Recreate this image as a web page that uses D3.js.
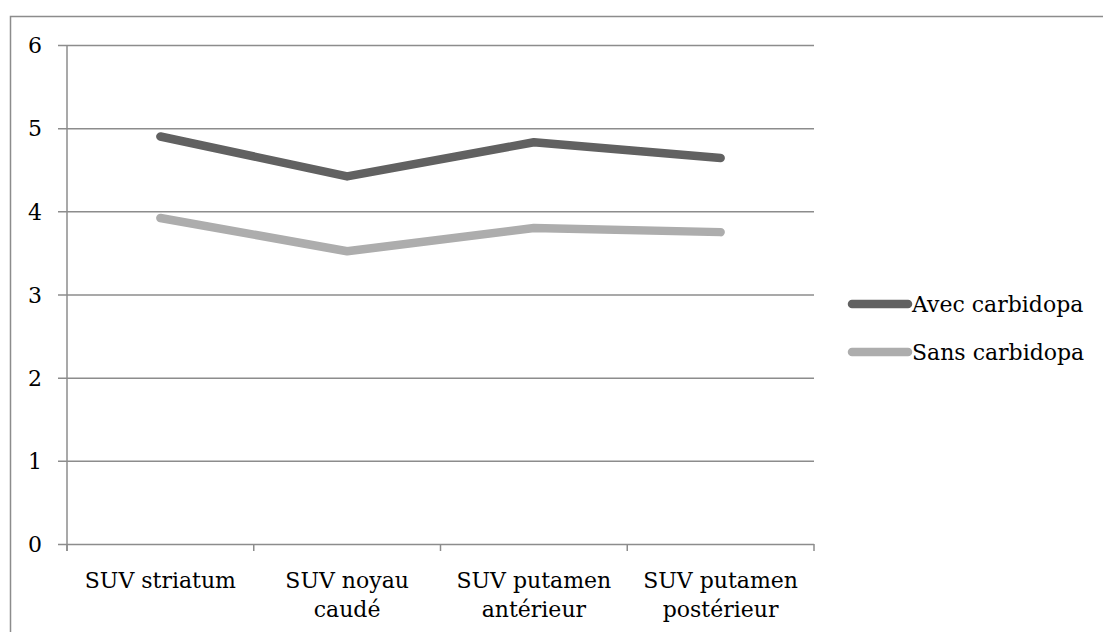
<!DOCTYPE html>
<html>
<head>
<meta charset="utf-8">
<script src="https://cdn.jsdelivr.net/npm/d3@7"></script>
<style>
  body { margin: 0; background: #fff; }
  svg text { font-family: "DejaVu Serif", "Liberation Serif", serif; fill: #000; }
</style>
</head>
<body>
<div id="chart"></div>
<script>
var categories = [["SUV striatum"], ["SUV noyau", "caudé"], ["SUV putamen", "antérieur"], ["SUV putamen", "postérieur"]];
var seriesNames = ["Avec carbidopa", "Sans carbidopa"];
var avecValues = [4.90, 4.42, 4.83, 4.64];
var sansValues = [3.92, 3.52, 3.80, 3.75];
var yTicks = [0, 1, 2, 3, 4, 5, 6];

var width = 1103, height = 632;
var colors = ["#616161", "#adadad"];
var fs = 22;

var svg = d3.select("#chart").append("svg")
    .attr("width", width).attr("height", height);

// outer border (only top and left visible)
svg.append("rect")
    .attr("x", 10.5).attr("y", 16.5)
    .attr("width", width + 10).attr("height", height + 10)
    .attr("fill", "none").attr("stroke", "#8c8c8c").attr("stroke-width", 1.5);

var x0 = 67, x1 = 814, yTop = 45, yBot = 544;

var x = d3.scaleBand()
    .domain(d3.range(categories.length))
    .range([x0, x1]);

var y = d3.scaleLinear()
    .domain([0, 6])
    .range([yBot, yTop]);

// gridlines + y ticks
var yAxis = d3.axisLeft(y)
    .tickValues(yTicks)
    .tickSize(-(x1 - x0))
    .tickFormat(d3.format("d"));

var gy = svg.append("g")
    .attr("transform", "translate(" + x0 + ",0)")
    .call(yAxis);
gy.select(".domain").remove();
gy.selectAll(".tick line")
    .attr("x1", -9)
    .attr("stroke", "#8c8c8c").attr("stroke-width", 1.5);
gy.selectAll(".tick text")
    .attr("font-size", fs)
    .attr("text-anchor", "start")
    .attr("x", -39)
    .attr("dy", "0.35em");

// y axis line
svg.append("line")
    .attr("x1", x0).attr("x2", x0)
    .attr("y1", yTop).attr("y2", yBot + 7)
    .attr("stroke", "#8c8c8c").attr("stroke-width", 1.5);

// x-axis tick marks at category boundaries
var bounds = d3.range(categories.length + 1).map(function(i) {
  return i < categories.length ? x(i) : x1;
});
svg.selectAll(".xtick")
    .data(bounds)
  .enter().append("line")
    .attr("class", "xtick")
    .attr("x1", function(d) { return d; })
    .attr("x2", function(d) { return d; })
    .attr("y1", yBot).attr("y2", yBot + 7)
    .attr("stroke", "#8c8c8c").attr("stroke-width", 1.5);

// category labels
var labels = svg.selectAll(".xlabel")
    .data(categories)
  .enter().append("text")
    .attr("class", "xlabel")
    .attr("text-anchor", "middle")
    .attr("font-size", fs)
    .attr("transform", function(d, i) {
      return "translate(" + (x(i) + x.bandwidth() / 2) + "," + 588 + ")";
    });
labels.selectAll("tspan")
    .data(function(d) { return d; })
  .enter().append("tspan")
    .attr("x", 0)
    .attr("y", function(d, i) { return i * 29; })
    .text(function(d) { return d; });

// lines
var line = d3.line()
    .x(function(d, i) { return x(i) + x.bandwidth() / 2; })
    .y(function(d) { return y(d); });

[avecValues, sansValues].forEach(function(vals, k) {
  svg.append("path")
      .datum(vals)
      .attr("d", line)
      .attr("fill", "none")
      .attr("stroke", colors[k])
      .attr("stroke-width", 8.5)
      .attr("stroke-linecap", "round")
      .attr("stroke-linejoin", "round");
});

// legend
var legend = svg.selectAll(".legend")
    .data(seriesNames)
  .enter().append("g")
    .attr("class", "legend")
    .attr("transform", function(d, i) { return "translate(852," + (304 + i * 48) + ")"; });
legend.append("line")
    .attr("x1", 0).attr("x2", 56)
    .attr("stroke", function(d, i) { return colors[i]; })
    .attr("stroke-width", 8.5)
    .attr("stroke-linecap", "round");
legend.append("text")
    .attr("x", 60)
    .attr("y", 0)
    .attr("dy", "0.35em")
    .attr("font-size", fs)
    .text(function(d) { return d; });
</script>
</body>
</html>
